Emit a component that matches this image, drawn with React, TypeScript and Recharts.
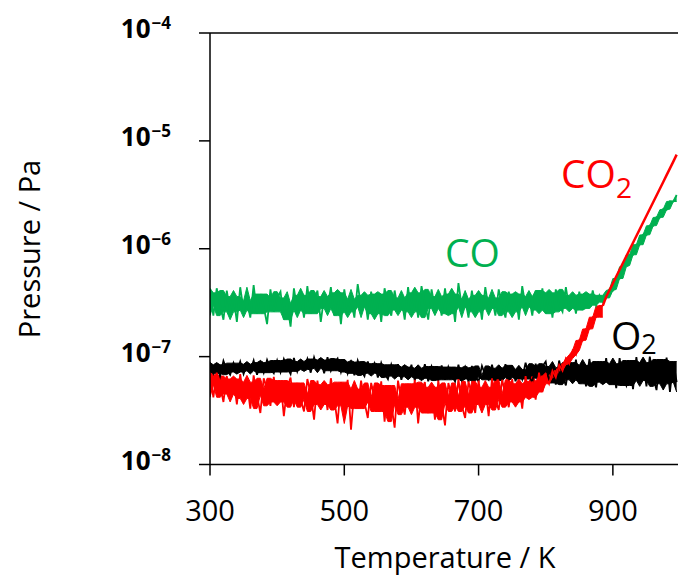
import React from "react";
import { ComposedChart, Line, Area, XAxis, YAxis, ReferenceLine } from "recharts";

// Temperature grid (K)
const TEMPS = [
  300, 305, 310, 315, 320, 325, 330, 335, 340, 345,
  350, 355, 360, 365, 370, 375, 380, 385, 390, 395,
  400, 405, 410, 415, 420, 425, 430, 435, 440, 445,
  450, 455, 460, 465, 470, 475, 480, 485, 490, 495,
  500, 505, 510, 515, 520, 525, 530, 535, 540, 545,
  550, 555, 560, 565, 570, 575, 580, 585, 590, 595,
  600, 605, 610, 615, 620, 625, 630, 635, 640, 645,
  650, 655, 660, 665, 670, 675, 680, 685, 690, 695,
  700, 705, 710, 715, 720, 725, 730, 735, 740, 745,
  750, 755, 760, 765, 770, 775, 780, 785, 790, 795,
  800, 805, 810, 815, 820, 825, 830, 835, 840, 845,
  850, 855, 860, 865, 870, 875, 880, 885, 890, 895,
  900, 905, 910, 915, 920, 925, 930, 935, 940, 945,
  950, 955, 960, 965, 970, 975, 980, 985, 990, 995,
];

// Pressures in units of 1e-7 Pa
const CO = [
  3.9, 2.4, 4.3, 3.0, 2.2, 4.1, 2.6, 3.6, 2.1, 4.4,
  2.7, 3.3, 2.3, 4.6, 2.5, 3.8, 2.9, 2.0, 4.2, 2.6,
  3.5, 4.0, 2.2, 3.1, 1.9, 4.3, 2.7, 3.7, 2.3, 4.5,
  2.5, 3.2, 4.1, 2.1, 3.6, 2.8, 4.4, 2.4, 3.9, 2.0,
  4.2, 2.6, 3.4, 2.3, 4.7, 2.9, 3.7, 2.2, 4.0, 2.5,
  3.8, 2.1, 4.3, 3.0, 2.4, 4.1, 2.7, 3.5, 2.2, 4.4,
  2.6, 3.9, 2.3, 4.5, 3.1, 2.2, 4.2, 2.8, 3.6, 2.4,
  4.3, 2.5, 3.8, 2.1, 4.8, 2.9, 3.4, 2.3, 4.1, 2.6,
  3.7, 2.2, 4.4, 2.8, 3.5, 2.4, 4.2, 3.0, 2.3, 4.0,
  2.6, 3.8, 2.2, 4.5, 2.9, 3.6, 2.4, 4.1, 2.7, 4.3,
  2.5, 3.9, 2.3, 4.2, 3.0, 2.6, 4.4, 2.8, 3.7, 2.5,
  4.0, 2.7, 3.8, 2.8, 4.1, 3.0, 3.7, 3.2, 3.5, 4.2,
  4.1, 5.3, 5.3, 6.8, 7.0, 8.8, 8.8, 10.9, 10.9, 13.5,
  13.4, 16.4, 16.3, 19.6, 19.5, 23.3, 23.0, 27.6, 27.4, 31.5,
];

const CO2 = [
  0.68, 0.42, 0.71, 0.55, 0.38, 0.66, 0.45, 0.62, 0.36, 0.69,
  0.41, 0.58, 0.33, 0.67, 0.44, 0.30, 0.63, 0.50, 0.35, 0.65,
  0.38, 0.60, 0.28, 0.52, 0.64, 0.34, 0.57, 0.40, 0.31, 0.62,
  0.45, 0.26, 0.60, 0.36, 0.55, 0.32, 0.63, 0.41, 0.24, 0.58,
  0.35, 0.61, 0.21, 0.50, 0.33, 0.60, 0.38, 0.27, 0.57, 0.42,
  0.31, 0.59, 0.25, 0.54, 0.36, 0.22, 0.60, 0.40, 0.29, 0.56,
  0.34, 0.61, 0.24, 0.48, 0.58, 0.30, 0.52, 0.26, 0.60, 0.37,
  0.23, 0.57, 0.43, 0.31, 0.62, 0.35, 0.27, 0.59, 0.44, 0.30,
  0.60, 0.36, 0.52, 0.28, 0.63, 0.40, 0.32, 0.61, 0.45, 0.34,
  0.62, 0.38, 0.56, 0.33, 0.66, 0.42, 0.59, 0.40, 0.71, 0.47,
  0.66, 0.56, 0.74, 0.64, 0.84, 0.74, 0.96, 0.86, 1.14, 1.04,
  1.42, 1.41, 1.80, 1.81, 2.32, 2.32, 2.95, 2.96, 3.59, 4.14,
  4.78, 5.53, 6.39, 7.38, 8.52, 9.84, 11.37, 13.13, 15.17, 17.52,
  20.25, 23.39, 27.0, 31.2, 36.0, 41.6, 48.1, 55.6, 64.2, 74.5,
];

const O2 = [
  0.88, 0.70, 0.84, 0.66, 0.91, 0.75, 0.68, 0.87, 0.72, 0.90,
  0.69, 0.85, 0.74, 0.92, 0.68, 0.88, 0.71, 0.93, 0.77, 0.70,
  0.92, 0.72, 0.95, 0.80, 0.69, 0.97, 0.73, 0.90, 0.76, 0.95,
  0.71, 0.98, 0.78, 0.93, 0.70, 0.99, 0.74, 0.88, 0.96, 0.72,
  0.94, 0.70, 0.89, 0.67, 0.92, 0.74, 0.66, 0.90, 0.70, 0.86,
  0.64, 0.87, 0.70, 0.62, 0.84, 0.66, 0.85, 0.61, 0.80, 0.65,
  0.84, 0.60, 0.78, 0.63, 0.85, 0.59, 0.81, 0.68, 0.60, 0.83,
  0.61, 0.80, 0.66, 0.59, 0.84, 0.62, 0.79, 0.58, 0.82, 0.65,
  0.59, 0.82, 0.67, 0.61, 0.84, 0.60, 0.78, 0.58, 0.85, 0.64,
  0.83, 0.59, 0.76, 0.62, 0.88, 0.66, 0.58, 0.86, 0.63, 0.81,
  0.90, 0.57, 0.79, 0.55, 0.92, 0.66, 0.54, 0.88, 0.61, 0.94,
  0.56, 0.83, 0.53, 0.95, 0.64, 0.52, 0.90, 0.58, 0.97, 0.55,
  0.86, 0.51, 0.97, 0.62, 0.54, 0.92, 0.50, 0.99, 0.60, 0.88,
  0.53, 1.00, 0.65, 0.49, 0.94, 0.56, 0.98, 0.47, 0.90, 0.58,
];

const UNIT = 1e-7;
const CO2_SMOOTH_FROM = 885; // K: above this the CO2 trace is a clean line
const X_TICKS = [300, 500, 700, 900];
const Y_TICKS = [1e-8, 1e-7, 1e-6, 1e-5, 1e-4];

// Solid core of a noisy trace around sample i: the span of the neighbouring
// samples without the single most extreme ones, so the spikes of the trace
// itself stick out of the filled band as in the original recording.
const band = (arr: (number | null)[], i: number) => {
  if (arr[i] === null || arr[i] === undefined) return null;
  const w = [arr[i - 2], arr[i - 1], arr[i], arr[i + 1], arr[i + 2]]
    .filter((v): v is number => v !== null && v !== undefined)
    .sort((a, b) => a - b);
  const lo = w.length >= 4 ? w[1] : w[0];
  const hi = w.length >= 4 ? w[w.length - 2] : w[w.length - 1];
  return [lo * UNIT, hi * UNIT];
};

const CO2_NOISY = TEMPS.map((t, i) => (t <= CO2_SMOOTH_FROM ? CO2[i] : null));

const data = TEMPS.map((t, i) => ({
  t,
  co: CO[i] * UNIT,
  coBand: band(CO, i),
  co2n: CO2_NOISY[i] !== null ? CO2[i] * UNIT : null,
  co2Band: band(CO2_NOISY, i),
  co2s: t >= CO2_SMOOTH_FROM ? CO2[i] * UNIT : null,
  o2: O2[i] * UNIT,
  o2Band: band(O2, i),
}));

const FONT = "'Open Sans', sans-serif";
const GREEN = "#00B050";
const RED = "#FF0000";

const XTick = (props: any) => {
  const { x, y, payload } = props;
  return (
    <text x={x} y={y + 45} textAnchor="middle" fontFamily={FONT} fontSize={29} fill="#000">
      {payload.value}
    </text>
  );
};

const YTick = (props: any) => {
  const { x, y, payload } = props;
  const exp = Math.round(Math.log10(payload.value));
  return (
    <text x={x - 28} y={y + 5} textAnchor="end" fontFamily={FONT} fontWeight="bold" fill="#000">
      <tspan fontSize={26}>10</tspan>
      <tspan fontSize={17} dy={-9} dx={1}>{"\u2212" + Math.abs(exp)}</tspan>
    </text>
  );
};

const bandProps = {
  type: "linear" as const,
  fillOpacity: 1,
  strokeWidth: 1,
  dot: false,
  activeDot: false,
  isAnimationActive: false,
};

const lineProps = {
  type: "linear" as const,
  dot: false,
  activeDot: false,
  isAnimationActive: false,
};

export default function App() {
  return (
    <div style={{ width: 678, height: 576, overflow: "hidden" }}>
      <style>{"body{margin:0;overflow:hidden}"}</style>
      <ComposedChart
        width={678}
        height={576}
        data={data}
        margin={{ top: 33, right: 0, bottom: 0, left: 0 }}
      >
        <XAxis
          dataKey="t"
          type="number"
          domain={[300, 997]}
          allowDataOverflow
          ticks={X_TICKS}
          tick={XTick}
          tickSize={11}
          tickMargin={0}
          height={111.5}
          axisLine={{ stroke: "#000", strokeWidth: 1.5 }}
          tickLine={{ stroke: "#000", strokeWidth: 1.5 }}
        />
        <YAxis
          type="number"
          scale="log"
          domain={[1e-8, 1e-4]}
          allowDataOverflow
          ticks={Y_TICKS}
          tick={YTick}
          tickSize={11}
          tickMargin={0}
          width={210}
          axisLine={{ stroke: "#000", strokeWidth: 1.5 }}
          tickLine={{ stroke: "#000", strokeWidth: 1.5 }}
        />
        <ReferenceLine y={1e-4} stroke="#000" strokeWidth={1.5} />
        <Area dataKey="o2Band" fill="#000" stroke="#000" {...bandProps} />
        <Line dataKey="o2" stroke="#000" strokeWidth={1.8} {...lineProps} />
        <Area dataKey="coBand" fill={GREEN} stroke={GREEN} {...bandProps} />
        <Line dataKey="co" stroke={GREEN} strokeWidth={1.8} {...lineProps} />
        <Area dataKey="co2Band" fill={RED} stroke={RED} {...bandProps} />
        <Line dataKey="co2n" stroke={RED} strokeWidth={1.8} {...lineProps} />
        <Line dataKey="co2s" stroke={RED} strokeWidth={2.5} {...lineProps} />
        <g>
          <text x={445} y={568} textAnchor="middle" fontFamily={FONT} fontSize={29} fill="#000">
            Temperature / K
          </text>
          <text
            x={40}
            y={249}
            transform="rotate(-90, 40, 249)"
            textAnchor="middle"
            fontFamily={FONT}
            fontSize={29}
            fill="#000"
          >
            Pressure / Pa
          </text>
          <text x={445} y={267} fontFamily={FONT} fontSize={39} fill={GREEN}>
            CO
          </text>
          <text x={561} y={188} fontFamily={FONT} fontSize={39} fill={RED}>
            CO<tspan fontSize={28} dy={10}>2</tspan>
          </text>
          <text x={611} y={350} fontFamily={FONT} fontSize={39} fill="#000">
            O<tspan fontSize={27} dy={4}>2</tspan>
          </text>
        </g>
      </ComposedChart>
    </div>
  );
}
